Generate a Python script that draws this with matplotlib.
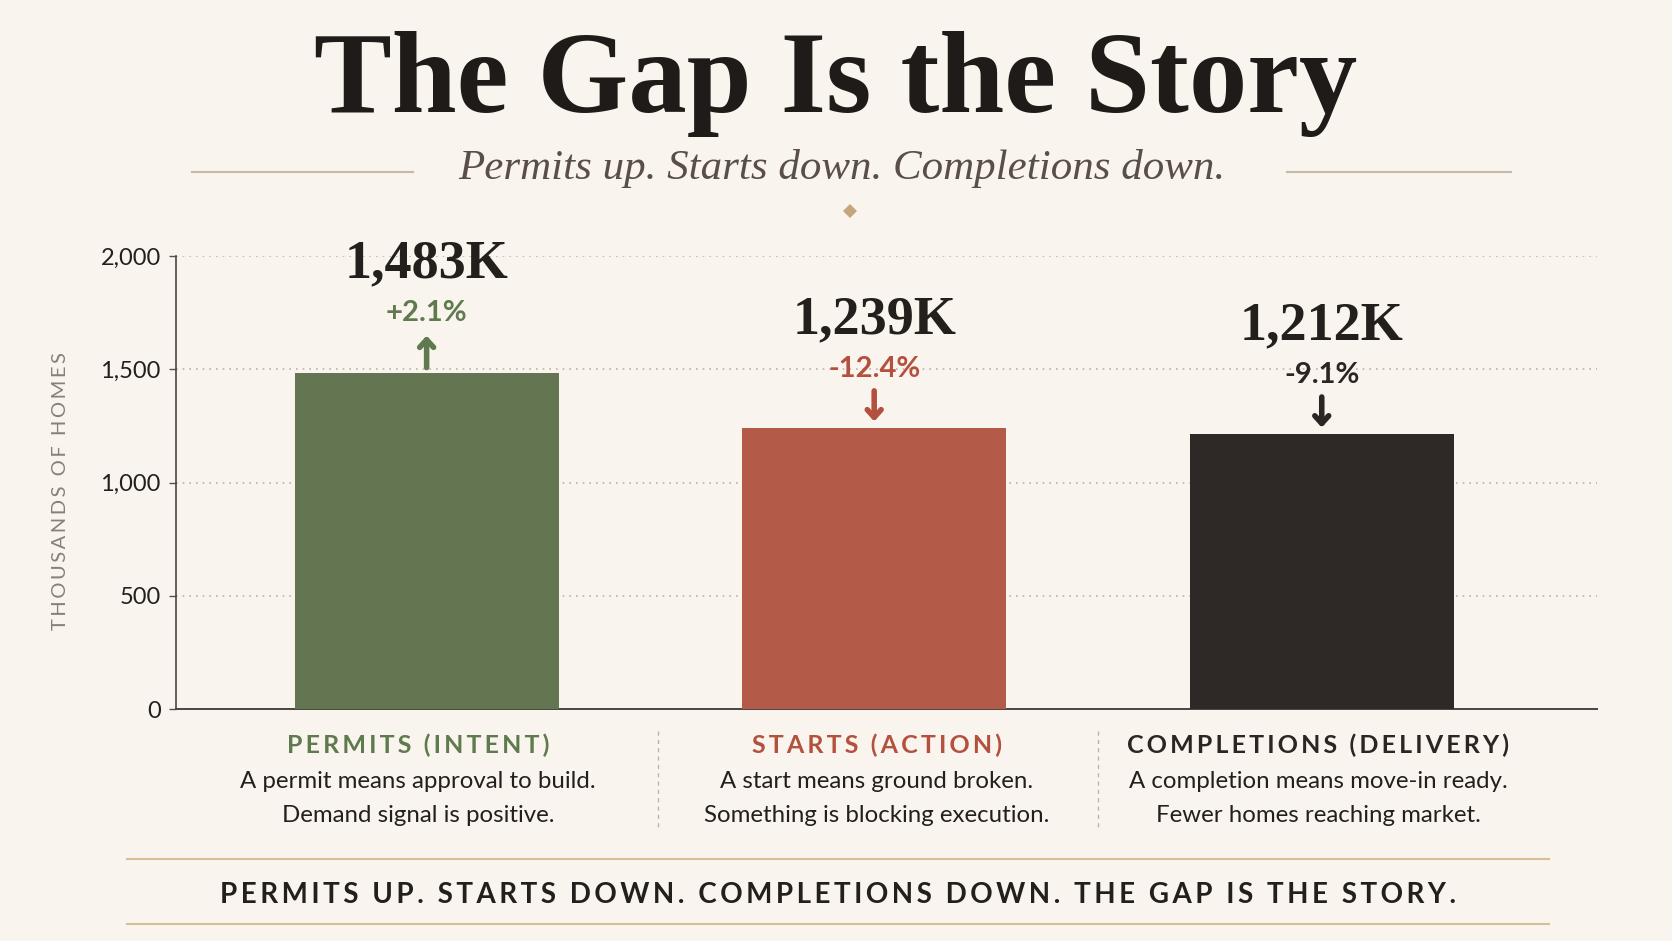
import matplotlib
matplotlib.use("Agg")
import matplotlib.pyplot as plt
from matplotlib.transforms import ScaledTranslation
from matplotlib.lines import Line2D

# ---- data ----
categories = ["PERMITS (INTENT)", "STARTS (ACTION)", "COMPLETIONS (DELIVERY)"]
values = [1483, 1239, 1212]
value_labels = ["1,483K", "1,239K", "1,212K"]
changes = ["+2.1%", "-12.4%", "-9.1%"]
directions = ["up", "down", "down"]
descriptions = [
    ["A permit means approval to build.", "Demand signal is positive."],
    ["A start means ground broken.", "Something is blocking execution."],
    ["A completion means move-in ready.", "Fewer homes reaching market."],
]
yticks = [0, 500, 1000, 1500, 2000]
ytick_labels = ["0", "500", "1,000", "1,500", "2,000"]
title = "The Gap Is the Story"
subtitle = "Permits up. Starts down. Completions down."
footer = "PERMITS UP. STARTS DOWN. COMPLETIONS DOWN. THE GAP IS THE STORY."
ylabel = "THOUSANDS OF HOMES"

# ---- style ----
BG = "#f9f5ee"
bar_colors = ["#647551", "#b35b48", "#2e2926"]
accent_colors = ["#5f7a4e", "#b3503e", "#2b2624"]
DARK = "#231f1d"
SANS = ["Lato", "DejaVu Sans"]
SERIF = ["Liberation Serif", "DejaVu Serif"]
THIN = "\u2009"
column_centers_px = [418, 877, 1318]


def spaced(s, sep=THIN):
    return sep.join(list(s))


W, H = 1672, 941
fig = plt.figure(figsize=(W / 100, H / 100), dpi=100, facecolor=BG)


def fx(px):
    return px / W


def fy(py):
    return 1 - py / H


ax = fig.add_axes([fx(176), fy(709), fx(1597) - fx(176), fy(256) - fy(709)])
ax.set_facecolor(BG)

x = list(range(len(categories)))
ax.bar(x, values, width=0.59, color=bar_colors, zorder=3)
ax.set_xlim(-0.56, 2.615)
ax.set_ylim(0, 2000)
ax.set_yticks(yticks)
ax.set_yticklabels(ytick_labels, fontsize=17, color=DARK, family=SANS)
ax.tick_params(axis="y", length=5, width=1, color="#555050", pad=6)
ax.set_xticks([])
ax.grid(axis="y", linestyle=(0, (1, 3)), color="#bdb4a8", linewidth=1.2, zorder=0)
for s in ["top", "right"]:
    ax.spines[s].set_visible(False)
ax.spines["left"].set_color("#4a4542")
ax.spines["bottom"].set_color("#4a4542")
ax.spines["left"].set_linewidth(1.2)
ax.spines["bottom"].set_linewidth(1.4)
ax.set_ylabel(spaced(ylabel), fontsize=14.5, color="#8a7f76", family=SANS)
ax.yaxis.set_label_coords(-0.075, 0.48)


def off(dy_pt):
    return ax.transData + ScaledTranslation(0, dy_pt / 72, fig.dpi_scale_trans)


for i, v in enumerate(values):
    ax.text(i, v, value_labels[i], transform=off(78), ha="center", va="center",
            fontsize=39, fontweight="bold", family=SERIF, color=DARK, clip_on=False)
    ax.text(i, v, changes[i], transform=off(43), ha="center", va="center",
            fontsize=21, fontweight="bold", family=SANS, color=accent_colors[i], clip_on=False)
    if directions[i] == "up":
        tail, head = 4, 27
    else:
        tail, head = 27, 5
    ax.annotate("", xy=(i, v), xycoords=off(head), xytext=(i, v), textcoords=off(tail),
                arrowprops=dict(arrowstyle="->,head_length=0.55,head_width=0.5",
                                color=accent_colors[i], lw=4, shrinkA=0, shrinkB=0),
                annotation_clip=False)

# category labels and descriptions
for i, cat in enumerate(categories):
    cx = fx(column_centers_px[i])
    fig.text(cx, fy(745), spaced(cat), ha="center", va="center",
             fontsize=18, fontweight="bold", family=SANS, color=accent_colors[i])
    for j, line in enumerate(descriptions[i]):
        fig.text(cx, fy(782 + 34 * j), line, ha="center", va="center",
                 fontsize=17.3, family=SANS, color=DARK)

# dashed separators
for sx in [658, 1098]:
    fig.add_artist(Line2D([fx(sx), fx(sx)], [fy(731), fy(830)], color="#bdb4a8",
                          linestyle=(0, (3, 3)), linewidth=1))

# title & subtitle
fig.text(fx(836), fy(84), title, ha="center", va="center", fontsize=84,
         fontweight="bold", family=SERIF, color="#1e1b19")
fig.text(fx(842), fy(168), subtitle, ha="center", va="center", fontsize=31,
         style="italic", family=SERIF, color="#5a4f48")
for x0, x1 in [(192, 413), (1287, 1511)]:
    fig.add_artist(Line2D([fx(x0), fx(x1)], [fy(172), fy(172)], color="#c8b9a6", linewidth=1.5))
fig.add_artist(Line2D([fx(850)], [fy(211)], marker="D", markersize=7, color="#c4a67a",
                      markeredgewidth=0))

# footer
for yy in [859, 924]:
    fig.add_artist(Line2D([fx(127), fx(1549)], [fy(yy), fy(yy)], color="#d6bf93", linewidth=1.5))
fig.text(fx(838), fy(895), spaced(footer), ha="center", va="center", fontsize=20,
         fontweight="bold", family=SANS, color=DARK)

fig.savefig("out.png", dpi=100, facecolor=BG)
